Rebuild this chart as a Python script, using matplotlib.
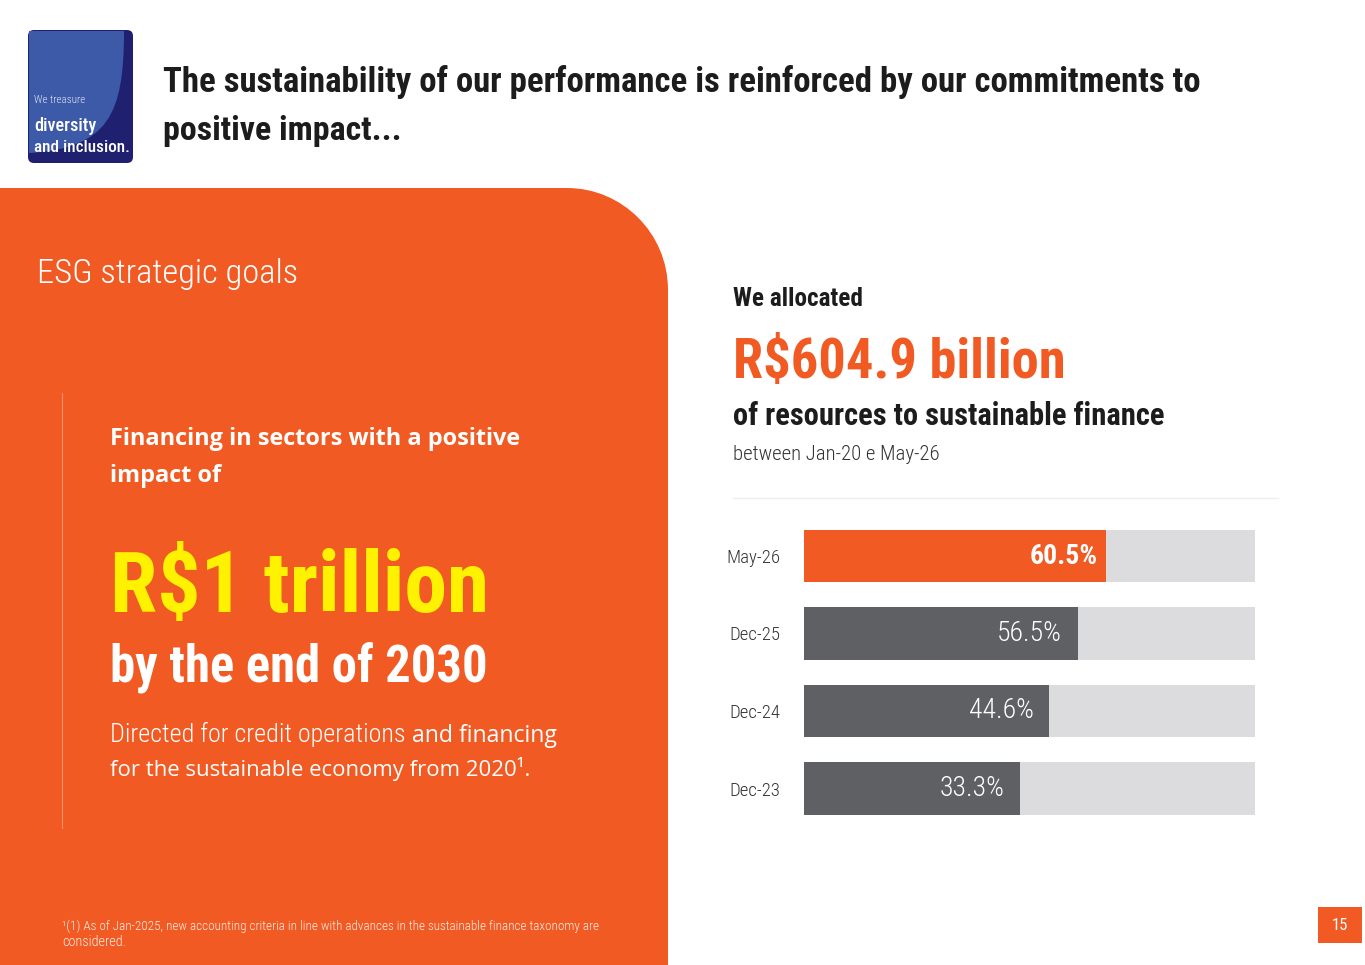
# ESG slide: sustainable finance share, recreated with matplotlib

import matplotlib
matplotlib.use("Agg")
import matplotlib.pyplot as plt
from matplotlib import font_manager
from matplotlib.patches import PathPatch, FancyBboxPatch, Rectangle
from matplotlib.path import Path

# data
periods = ["Dec-23", "Dec-24", "Dec-25", "May-26"]
share_labels = ["33.3%", "44.6%", "56.5%", "60.5%"]
bar_fill = [47.9, 54.4, 60.7, 66.9]  # drawn length of each bar, % of the grey track

ORANGE = "#f15a22"
YELLOW = "#fff200"
DARK_BAR = "#5f6064"
TRACK = "#dcdcde"
INK = "#1c1c1c"

installed = {f.name for f in font_manager.fontManager.ttflist}


def pick(*names):
    return [n for n in names if n in installed] + ["DejaVu Sans"]


COND = pick("Roboto Condensed", "Liberation Sans Narrow", "DejaVu Sans Condensed")
SANS = pick("Open Sans", "Noto Sans", "Roboto")

fig = plt.figure(figsize=(13.65, 9.65), dpi=100)
bg = fig.add_axes([0, 0, 1, 1])
bg.set_xlim(0, 1365)
bg.set_ylim(965, 0)
bg.axis("off")
renderer = fig.canvas.get_renderer()


def put(x, y, s, width=None, **kw):
    # place text at a baseline; optionally scale the size to a target pixel width
    kw.setdefault("family", COND)
    t = bg.text(x, y, s, va="baseline", ha="left", **kw)
    if width:
        w = t.get_window_extent(renderer).width
        t.set_fontsize(t.get_fontsize() * width / w)
    return t


# orange panel with rounded top-right corner
verts = [(0, 965), (0, 188), (567, 188), (622, 188), (668, 233), (668, 290), (668, 965), (0, 965)]
codes = [Path.MOVETO, Path.LINETO, Path.LINETO, Path.CURVE4, Path.CURVE4, Path.CURVE4,
         Path.LINETO, Path.CLOSEPOLY]
bg.add_patch(PathPatch(Path(verts, codes), facecolor=ORANGE, edgecolor="none"))

# logo badge
bg.add_patch(FancyBboxPatch((28, 30), 105, 133, boxstyle="round,pad=0,rounding_size=6",
                            facecolor="#1f2170", edgecolor="none"))
logo = [(29, 31), (124, 31), (124, 115), (108, 148), (29, 153), (29, 31)]
lcodes = [Path.MOVETO, Path.LINETO, Path.CURVE4, Path.CURVE4, Path.CURVE4, Path.CLOSEPOLY]
bg.add_patch(PathPatch(Path(logo, lcodes), facecolor="#3d5aa9", edgecolor="none"))
put(34, 103, "We treasure", width=52, color="white", fontsize=7, weight="light", alpha=0.85)
put(34, 131, "diversity", width=62, color="white", fontsize=13, weight="medium")
put(34, 152, "and inclusion.", width=96, color="white", fontsize=13, weight="medium")

# title
put(163, 92, "The sustainability of our performance is reinforced by our commitments to",
    width=1040, color=INK, fontsize=28, weight="bold")
put(163, 140, "positive impact...", width=238, color=INK, fontsize=28, weight="bold")

# left panel text
put(37, 283, "ESG strategic goals", width=261, color="white", fontsize=26, weight="light")
bg.plot([62, 62], [393, 828], color="#f7906a", lw=0.8)
put(110, 445, "Financing in sectors with a positive", width=410, color="white",
    fontsize=20, weight="bold", family=SANS)
put(110, 482, "impact of", width=111, color="white", fontsize=20, weight="bold", family=SANS)
put(110, 612, "R$1 trillion", width=380, color=YELLOW, fontsize=60, weight="bold")
put(110, 683, "by the end of 2030", width=377, color="white", fontsize=40, weight="bold")
t1 = put(110, 742, "Directed for credit operations ", color="white", fontsize=20,
         weight="light")
t1.set_fontsize(20 * 302 / t1.get_window_extent(renderer).width)
x_end = 110 + t1.get_window_extent(renderer).width
put(x_end, 742, "and financing", width=556 - x_end, color="white", fontsize=20, family=SANS)
put(110, 776, "for the sustainable economy from 2020\u00b9.", width=418, color="white",
    fontsize=20, family=SANS)
put(62, 930, "\u00b9(1) As of Jan-2025, new accounting criteria in line with advances in the "
    "sustainable finance taxonomy are", width=535, color="white", fontsize=9,
    weight="light", alpha=0.9)
put(62, 946, "considered.", width=64, color="white", fontsize=9, weight="light", alpha=0.9)

# right panel header
put(733, 306, "We allocated", width=130, color=INK, fontsize=17, weight="bold")
put(733, 378, "R$604.9 billion", width=333, color=ORANGE, fontsize=44, weight="bold")
put(733, 425, "of resources to sustainable finance", width=433, color=INK, fontsize=23,
    weight="bold")
put(733, 460, "between Jan-20 e May-26", width=207, color="#333333", fontsize=17,
    weight="light")
bg.plot([733, 1278], [498, 498], color="#eeeeee", lw=1)

# page number
bg.add_patch(Rectangle((1318, 907), 44, 36, facecolor=ORANGE, edgecolor="none"))
bg.text(1340, 926, "15", color="white", fontsize=12, ha="center", va="center", family=COND)

# bar chart
ax = fig.add_axes([804 / 1365, 1 - 827.25 / 965, 451 / 1365, 310 / 965])
ypos = list(range(len(periods)))
ax.barh(ypos, [100] * len(periods), height=0.68, color=TRACK)
ax.barh(ypos, bar_fill, height=0.68, color=[DARK_BAR] * 3 + [ORANGE])
for i, (fill, lab) in enumerate(zip(bar_fill, share_labels)):
    last = i == len(periods) - 1
    ax.text(fill - (1.8 if last else 3.5), i, lab, ha="right", va="center", color="white",
            fontsize=20, weight="bold" if last else "light", family=COND)
ax.set_xlim(0, 100)
ax.set_ylim(-0.5, 3.5)
ax.set_yticks(ypos, periods)
ax.set_xticks([])
ax.tick_params(axis="y", length=0, pad=17, labelsize=13.5, labelcolor="#333333")
for lab in ax.get_yticklabels():
    lab.set_family(COND)
    lab.set_weight("light")
for s in ax.spines.values():
    s.set_visible(False)
ax.patch.set_alpha(0)

fig.savefig("out.png", dpi=100)
